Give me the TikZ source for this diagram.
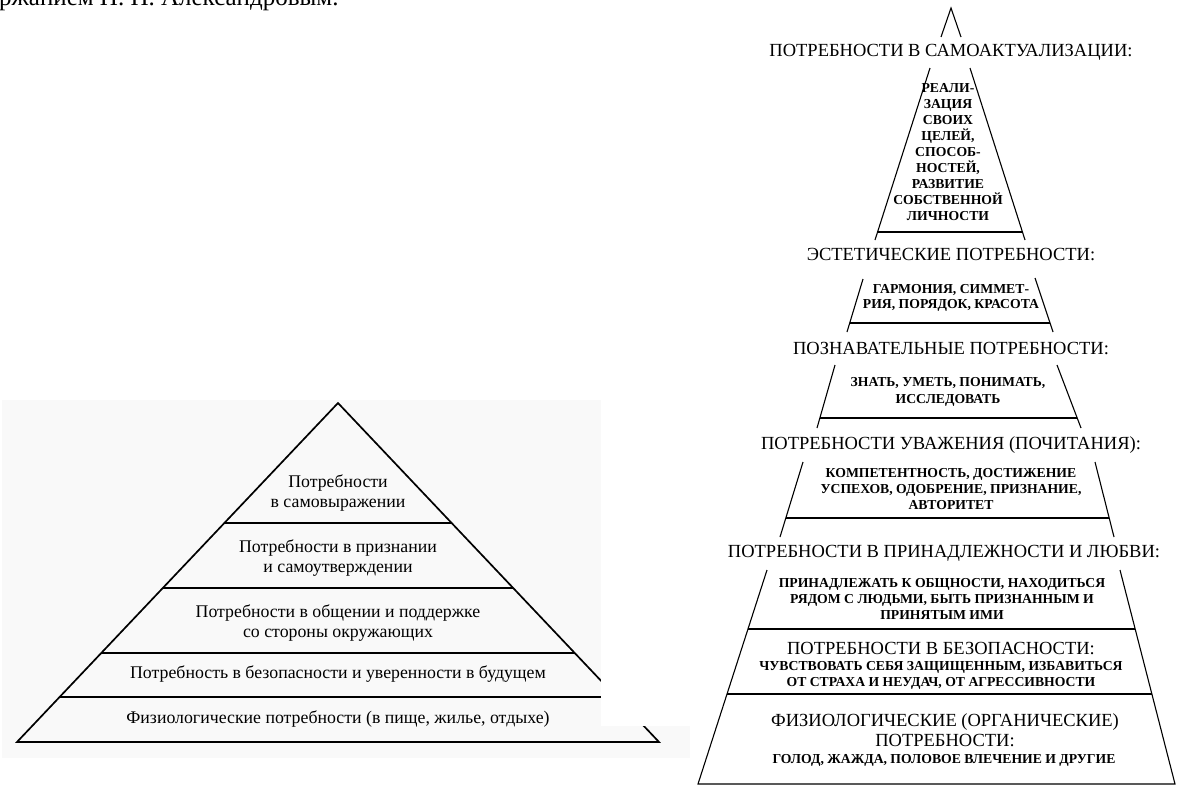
\documentclass[tikz,border=0pt]{standalone}
\usepackage{fontspec}
\setmainfont{Liberation Serif}
\definecolor{panel}{HTML}{F9F9F9}
\begin{document}
\begin{tikzpicture}[x=1pt,y=-1pt,
  lt/.style={font=\fontsize{17.8}{20}\selectfont, align=center, inner sep=0pt},
  hd/.style={font=\fontsize{18.5}{20}\selectfont, align=center, inner sep=0pt},
  sm/.style={font=\fontsize{13.7}{16}\selectfont\bfseries, align=center, inner sep=0pt},
  lline/.style={line width=1.7pt, line join=miter},
  rline/.style={line width=1.1pt}]
\clip (0,0) rectangle (1194,785);
\fill[white] (0,0) rectangle (1194,785);
% cut-off caption at the top
\node[anchor=base west, inner sep=0pt, font=\fontsize{25}{28}\selectfont] (cap) at (-1,5) {ржанием Н. Н. Александровым.};
% ---------------- left pyramid ----------------
\fill[panel] (2,400) rectangle (690,758);
\coordinate (LA) at (338,403);
\coordinate (LB) at (17,742);
\coordinate (LC) at (659,742);
\draw[lline] (LB) -- (LA) -- (LC) -- cycle;
\draw[lline] (224.4,523) -- (451.6,523);
\draw[lline] (162.8,588) -- (513.2,588);
\draw[lline] (101.2,653) -- (574.8,653);
\draw[lline] (59.6,697) -- (616.4,697);
% the right-hand picture's white ground hides part of the left one
\fill[white] (601,398) rectangle (692,726);
\node[lt] (l1) at (338,493) {Потребности\\в самовыражении};
\node[lt] (l2) at (338,558) {Потребности в признании\\и самоутверждении};
\node[lt] (l3) at (338,623) {Потребности в общении и поддержке\\со стороны окружающих};
\node[lt] (l4) at (338,674) {Потребность в безопасности и уверенности в будущем};
\node[lt] (l5) at (338,719) {Физиологические потребности (в пище, жилье, отдыхе)};
% ---------------- right pyramid ----------------
% top peak
\draw[rline] (941,37) -- (951,8) -- (961,37);
\node[hd] (h1) at (951,52) {ПОТРЕБНОСТИ В САМОАКТУАЛИЗАЦИИ:};
% tier 1
\draw[rline] (930,68) -- (875,240);
\draw[rline] (970,68) -- (1025,240);
\draw[rline] (877.6,232) -- (1022.4,232);
\node[sm] (t1) at (948,152) {РЕАЛИ-\\ЗАЦИЯ\\СВОИХ\\ЦЕЛЕЙ,\\СПОСОБ-\\НОСТЕЙ,\\РАЗВИТИЕ\\СОБСТВЕННОЙ\\ЛИЧНОСТИ};
\node[hd] (h2) at (951,255) {ЭСТЕТИЧЕСКИЕ ПОТРЕБНОСТИ:};
% tier 2
\draw[rline] (863,279) -- (847,332);
\draw[rline] (1035,278) -- (1053,332);
\draw[rline] (849.7,323) -- (1050,323);
\node[sm, font=\fontsize{13.7}{15}\selectfont\bfseries] (t2) at (951,297.5) {ГАРМОНИЯ, СИММЕТ-\\РИЯ, ПОРЯДОК, КРАСОТА};
\node[hd] (h3) at (951,348) {ПОЗНАВАТЕЛЬНЫЕ ПОТРЕБНОСТИ:};
% tier 3
\draw[rline] (835,365) -- (817,428);
\draw[rline] (1057,365) -- (1081,428);
\draw[rline] (819.9,418) -- (1077,418);
\node[sm, font=\fontsize{13.7}{17}\selectfont\bfseries] (t3) at (948,391.5) {ЗНАТЬ, УМЕТЬ, ПОНИМАТЬ,\\ИССЛЕДОВАТЬ};
\node[hd] (h4) at (951,445) {ПОТРЕБНОСТИ УВАЖЕНИЯ (ПОЧИТАНИЯ):};
% tier 4
\draw[rline] (803,462) -- (780,537);
\draw[rline] (1095,462) -- (1114,537);
\draw[rline] (785.8,518) -- (1109.2,518);
\node[sm] (t4) at (951,489) {КОМПЕТЕНТНОСТЬ, ДОСТИЖЕНИЕ\\УСПЕХОВ, ОДОБРЕНИЕ, ПРИЗНАНИЕ,\\АВТОРИТЕТ};
\node[hd] (h5) at (944,553) {ПОТРЕБНОСТИ В ПРИНАДЛЕЖНОСТИ И ЛЮБВИ:};
% bottom block
\coordinate (BL1) at (767,570);
\coordinate (BL2) at (698,784);
\coordinate (BR1) at (1120,570);
\coordinate (BR2) at (1175,784);
\draw[rline] (BL1) -- (BL2) -- (BR2) -- (BR1);
\draw[rline] (748,629) -- (1135.2,629);
\draw[rline] (727,694) -- (1151.9,694);
\node[sm] (t5) at (942,599) {ПРИНАДЛЕЖАТЬ К ОБЩНОСТИ, НАХОДИТЬСЯ\\РЯДОМ С ЛЮДЬМИ, БЫТЬ ПРИЗНАННЫМ И\\ПРИНЯТЫМ ИМИ};
\node[hd] (h6) at (941,648) {ПОТРЕБНОСТИ В БЕЗОПАСНОСТИ:};
\node[sm] (t6) at (941,675) {ЧУВСТВОВАТЬ СЕБЯ ЗАЩИЩЕННЫМ, ИЗБАВИТЬСЯ\\ОТ СТРАХА И НЕУДАЧ, ОТ АГРЕССИВНОСТИ};
\node[hd] (h7) at (945,730) {ФИЗИОЛОГИЧЕСКИЕ (ОРГАНИЧЕСКИЕ)\\ПОТРЕБНОСТИ:};
\node[sm] (t7) at (944,760) {ГОЛОД, ЖАЖДА, ПОЛОВОЕ ВЛЕЧЕНИЕ И ДРУГИЕ};
\end{tikzpicture}
\end{document}
